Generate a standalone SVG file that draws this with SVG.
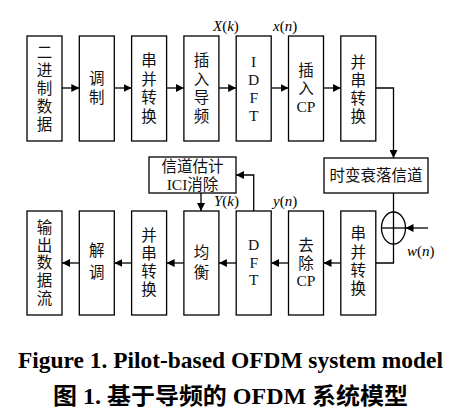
<svg xmlns="http://www.w3.org/2000/svg" width="466" height="413" viewBox="0 0 466 413">
<style>
.box{fill:#fff;stroke:#000;stroke-width:1.3}
.ln{fill:none;stroke:#000;stroke-width:1.3}
.t{font-family:"Liberation Serif","Noto Sans CJK SC",serif;font-size:15.5px;text-anchor:middle;fill:#111}
.lab{font-family:"Liberation Serif",serif;font-size:15px;font-style:italic;fill:#000}
.cap{font-family:"Liberation Serif","Noto Sans CJK SC",serif;font-size:23px;font-weight:bold;fill:#000}
.cap2{font-family:"Liberation Serif","Noto Sans CJK SC",sans-serif;font-size:23px;font-weight:bold;fill:#000}
</style>
<defs>
<marker id="ah" viewBox="0 0 10 10" refX="10" refY="5" markerWidth="8" markerHeight="8" markerUnits="userSpaceOnUse" orient="auto">
<path d="M0,0 L10,5 L0,10 Z" fill="#000"/>
</marker>
</defs>
<rect width="466" height="413" fill="#fff"/>
<g id="connectors">
<line class="ln" x1="62" y1="88" x2="79.3" y2="88" marker-end="url(#ah)"/>
<line class="ln" x1="114.3" y1="88" x2="131.6" y2="88" marker-end="url(#ah)"/>
<line class="ln" x1="166.6" y1="88" x2="183.9" y2="88" marker-end="url(#ah)"/>
<line class="ln" x1="218.9" y1="88" x2="236.2" y2="88" marker-end="url(#ah)"/>
<line class="ln" x1="271.2" y1="88" x2="288.5" y2="88" marker-end="url(#ah)"/>
<line class="ln" x1="323.5" y1="88" x2="340.8" y2="88" marker-end="url(#ah)"/>
<polyline class="ln" points="375.8,88 393.5,88 393.5,158" marker-end="url(#ah)"/>
<line class="ln" x1="393.5" y1="193" x2="393.5" y2="212"/>
<polyline class="ln" points="393.5,244 393.5,263 375.8,263"/>
<line class="ln" x1="428" y1="228" x2="405.5" y2="228" marker-end="url(#ah)"/>
<line class="ln" x1="340.8" y1="263" x2="323.5" y2="263" marker-end="url(#ah)"/>
<line class="ln" x1="288.5" y1="263" x2="271.2" y2="263" marker-end="url(#ah)"/>
<line class="ln" x1="236.2" y1="263" x2="218.9" y2="263" marker-end="url(#ah)"/>
<line class="ln" x1="183.9" y1="263" x2="166.6" y2="263" marker-end="url(#ah)"/>
<line class="ln" x1="131.6" y1="263" x2="114.3" y2="263" marker-end="url(#ah)"/>
<line class="ln" x1="79.3" y1="263" x2="62" y2="263" marker-end="url(#ah)"/>
<polyline class="ln" points="253.7,211 253.7,175 236,175" marker-end="url(#ah)"/>
<line class="ln" x1="201" y1="193" x2="201" y2="211" marker-end="url(#ah)"/>
</g>
<g id="n1"><rect class="box" x="27" y="36" width="35" height="105"/>
<text class="t" x="44.5"><tspan x="44.5" y="58">二</tspan><tspan x="44.5" y="76">进</tspan><tspan x="44.5" y="94">制</tspan><tspan x="44.5" y="112">数</tspan><tspan x="44.5" y="130">据</tspan></text></g>
<g id="n2"><rect class="box" x="79.3" y="36" width="35" height="105"/>
<text class="t"><tspan x="96.8" y="84">调</tspan><tspan x="96.8" y="103">制</tspan></text></g>
<g id="n3"><rect class="box" x="131.6" y="36" width="35" height="105"/>
<text class="t"><tspan x="149.1" y="66">串</tspan><tspan x="149.1" y="85">并</tspan><tspan x="149.1" y="103">转</tspan><tspan x="149.1" y="122">换</tspan></text></g>
<g id="n4"><rect class="box" x="183.9" y="36" width="35" height="105"/>
<text class="t"><tspan x="201.4" y="66">插</tspan><tspan x="201.4" y="85">入</tspan><tspan x="201.4" y="103">导</tspan><tspan x="201.4" y="122">频</tspan></text></g>
<g id="n5"><rect class="box" x="236.2" y="36" width="35" height="105"/>
<text class="t"><tspan x="253.7" y="67">I</tspan><tspan x="253.7" y="85">D</tspan><tspan x="253.7" y="103">F</tspan><tspan x="253.7" y="121">T</tspan></text></g>
<g id="n6"><rect class="box" x="288.5" y="36" width="35" height="105"/>
<text class="t"><tspan x="306" y="76">插</tspan><tspan x="306" y="94">入</tspan><tspan x="306" y="112">CP</tspan></text></g>
<g id="n7"><rect class="box" x="340.8" y="36" width="35" height="105"/>
<text class="t"><tspan x="358.3" y="68">并</tspan><tspan x="358.3" y="86">串</tspan><tspan x="358.3" y="104">转</tspan><tspan x="358.3" y="122">换</tspan></text></g>
<g id="channel"><rect class="box" x="324" y="158" width="104" height="35"/>
<text class="t" x="376" y="181">时变衰落信道</text></g>
<g id="adder"><ellipse class="ln" cx="393.5" cy="228" rx="12" ry="16"/>
<line class="ln" x1="381.5" y1="228" x2="405.5" y2="228"/>
<line class="ln" x1="393.5" y1="212" x2="393.5" y2="244"/></g>
<g id="est"><rect class="box" x="149" y="157" width="87" height="36"/>
<text class="t" x="192.5" y="172">信道估计</text>
<text class="t" x="192.5" y="189.5">ICI消除</text></g>
<g id="b1"><rect class="box" x="340.8" y="211" width="35" height="104"/>
<text class="t"><tspan x="358.3" y="239">串</tspan><tspan x="358.3" y="258">并</tspan><tspan x="358.3" y="276">转</tspan><tspan x="358.3" y="294">换</tspan></text></g>
<g id="b2"><rect class="box" x="288.5" y="211" width="35" height="104"/>
<text class="t"><tspan x="306" y="251">去</tspan><tspan x="306" y="269">除</tspan><tspan x="306" y="286">CP</tspan></text></g>
<g id="b3"><rect class="box" x="236.2" y="211" width="35" height="104"/>
<text class="t"><tspan x="253.7" y="250">D</tspan><tspan x="253.7" y="268">F</tspan><tspan x="253.7" y="285">T</tspan></text></g>
<g id="b4"><rect class="box" x="183.9" y="211" width="35" height="104"/>
<text class="t"><tspan x="201.4" y="258">均</tspan><tspan x="201.4" y="278">衡</tspan></text></g>
<g id="b5"><rect class="box" x="131.6" y="211" width="35" height="104"/>
<text class="t"><tspan x="149.1" y="241">并</tspan><tspan x="149.1" y="259">串</tspan><tspan x="149.1" y="277">转</tspan><tspan x="149.1" y="295">换</tspan></text></g>
<g id="b6"><rect class="box" x="79.3" y="211" width="35" height="104"/>
<text class="t"><tspan x="96.8" y="256">解</tspan><tspan x="96.8" y="278">调</tspan></text></g>
<g id="b7"><rect class="box" x="27" y="211" width="35" height="104"/>
<text class="t"><tspan x="44.5" y="233">输</tspan><tspan x="44.5" y="251">出</tspan><tspan x="44.5" y="268">数</tspan><tspan x="44.5" y="286">据</tspan><tspan x="44.5" y="304">流</tspan></text></g>
<g id="labels">
<text class="lab" x="213" y="31">X<tspan font-style="normal">(</tspan>k<tspan font-style="normal">)</tspan></text>
<text class="lab" x="273" y="31">x<tspan font-style="normal">(</tspan>n<tspan font-style="normal">)</tspan></text>
<text class="lab" x="214" y="206">Y<tspan font-style="normal">(</tspan>k<tspan font-style="normal">)</tspan></text>
<text class="lab" x="273" y="206">y<tspan font-style="normal">(</tspan>n<tspan font-style="normal">)</tspan></text>
<text class="lab" x="407" y="256">w<tspan font-style="normal">(</tspan>n<tspan font-style="normal">)</tspan></text>
</g>
<g id="caption">
<text class="cap" x="18" y="368" textLength="425" lengthAdjust="spacingAndGlyphs">Figure 1. Pilot-based OFDM system model</text>
<text class="cap2" x="53" y="404" textLength="355" lengthAdjust="spacingAndGlyphs">图 1. 基于导频的 OFDM 系统模型</text>
</g>
</svg>
